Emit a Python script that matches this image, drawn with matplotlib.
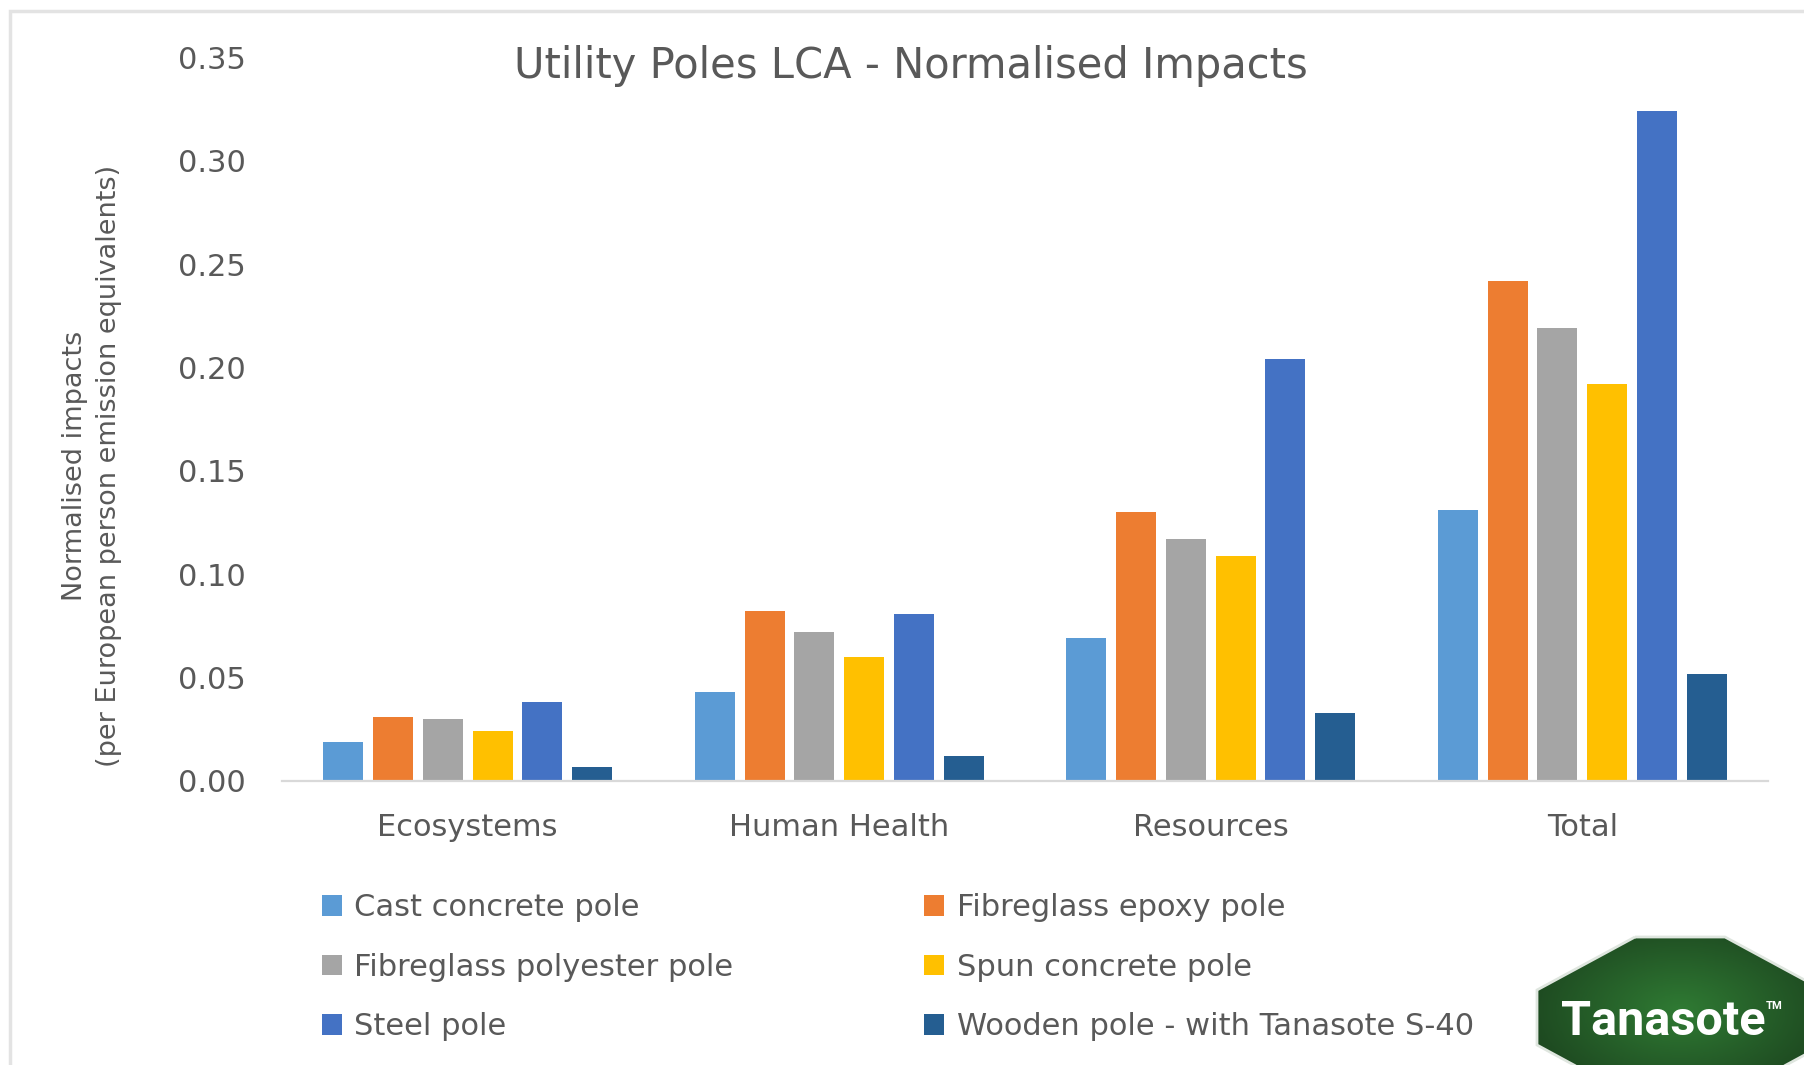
import numpy as np
import matplotlib
matplotlib.use("Agg")
import matplotlib.pyplot as plt
from matplotlib.patches import Polygon, Rectangle
from matplotlib.colors import LinearSegmentedColormap

categories = ["Ecosystems", "Human Health", "Resources", "Total"]
series = [
  "Cast concrete pole",
  "Fibreglass epoxy pole",
  "Fibreglass polyester pole",
  "Spun concrete pole",
  "Steel pole",
  "Wooden pole - with Tanasote S-40",
]
cast_concrete = [0.019, 0.043, 0.069, 0.131]
fibreglass_epoxy = [0.031, 0.082, 0.130, 0.242]
fibreglass_polyester = [0.030, 0.072, 0.117, 0.219]
spun_concrete = [0.024, 0.060, 0.109, 0.192]
steel = [0.038, 0.081, 0.204, 0.324]
wooden = [0.007, 0.012, 0.033, 0.052]
yticks = [0.00, 0.05, 0.10, 0.15, 0.20, 0.25, 0.30, 0.35]

values = [cast_concrete, fibreglass_epoxy, fibreglass_polyester, spun_concrete, steel, wooden]
colors = ["#5B9BD5", "#ED7D31", "#A5A5A5", "#FFC000", "#4472C4", "#255E91"]
textColor = "#595959"

plt.rcParams["font.family"] = ["DejaVu Sans"]

W, H = 1804, 1065
fig = plt.figure(figsize=(W / 100, H / 100), dpi=100)
ax = fig.add_axes([282 / W, 1 - 781 / H, (1768 - 282) / W, (781 - 57.5) / H])

x = np.arange(len(categories))
pitch = 0.134
width = 0.108
bars = []
for i, (vals, col) in enumerate(zip(values, colors)):
  b = ax.bar(x + (i - 2.5) * pitch, vals, width, color=col, label=series[i], zorder=3)
  bars.append(b)

ax.set_xlim(-0.5, 3.5)
ax.set_ylim(0, 0.35)
ax.set_yticks(yticks)
ax.set_yticklabels(["%.2f" % t for t in yticks])
ax.set_xticks(x)
ax.set_xticklabels(categories)
ax.tick_params(axis="y", length=0, pad=26, labelsize=22, labelcolor=textColor)
ax.tick_params(axis="x", length=0, pad=23, labelsize=22, labelcolor=textColor)
for s in ["top", "right", "left"]:
  ax.spines[s].set_visible(False)
ax.spines["bottom"].set_color("#d9d9d9")
ax.spines["bottom"].set_linewidth(1.6)
ax.spines["bottom"].set_zorder(4)

fig.text(0.505, 1 - 66 / H, "Utility Poles LCA - Normalised Impacts", ha="center", va="center",
         fontsize=30, color=textColor)
fig.text(92 / W, 1 - 466 / H, "Normalised impacts\n(per European person emission equivalents)",
         rotation=90, ha="center", va="center", fontsize=19.5, color=textColor, linespacing=1.45)

# legend is filled row by row in the reference
order = [0, 2, 4, 1, 3, 5]
leg = fig.legend([bars[i] for i in order], [series[i] for i in order], ncol=2, frameon=False,
                 loc="upper left", bbox_to_anchor=(307 / W, 1 - 878 / H), borderpad=0,
                 fontsize=22, handlelength=0.65, handleheight=0.65, handletextpad=0.4,
                 labelspacing=1.0, columnspacing=6.25, labelcolor=textColor)

# light frame around the chart
fig.patches.append(Rectangle((10 / W, -0.05), 1.2, 1 - 11 / H + 0.05, transform=fig.transFigure,
                             fill=False, edgecolor="#e3e3e3", linewidth=2.5))

# Tanasote logo
cx = 1680
pts = [(cx - 45, 937), (cx + 45, 937), (cx + 143, 990), (cx + 143, 1045), (cx + 60, 1090),
       (cx - 60, 1090), (cx - 143, 1045), (cx - 143, 990)]
lax = fig.add_axes([0, 0, 1, 1], zorder=5)
lax.set_xlim(0, W)
lax.set_ylim(H, 0)
lax.axis("off")
lax.add_patch(Polygon(pts, closed=True, facecolor="none", edgecolor="#dfe6df", linewidth=2))
gx, gy = np.meshgrid(np.linspace(cx - 150, cx + 150, 120), np.linspace(930, 1095, 80))
r = np.sqrt(((gx - cx) / 150) ** 2 + ((gy - 1010) / 90) ** 2)
grad = np.clip(r, 0, 1)
cmap = LinearSegmentedColormap.from_list("g", ["#2f7a33", "#1e4a21"])
im = lax.imshow(grad, cmap=cmap, extent=(cx - 150, cx + 150, 1095, 930), aspect="auto")
im.set_clip_path(Polygon(pts, closed=True, transform=lax.transData))
lax.set_xlim(0, W)
lax.set_ylim(H, 0)
lax.text(1663, 1022, "Tanasote", ha="center", va="center", color="white", fontsize=35,
         fontweight="bold", family=["Roboto", "DejaVu Sans"])
lax.text(1766, 1006, "TM", ha="left", va="center", color="white", fontsize=8,
         fontweight="bold", family=["Roboto", "DejaVu Sans"])

fig.savefig("out.png", dpi=100, facecolor="white")
